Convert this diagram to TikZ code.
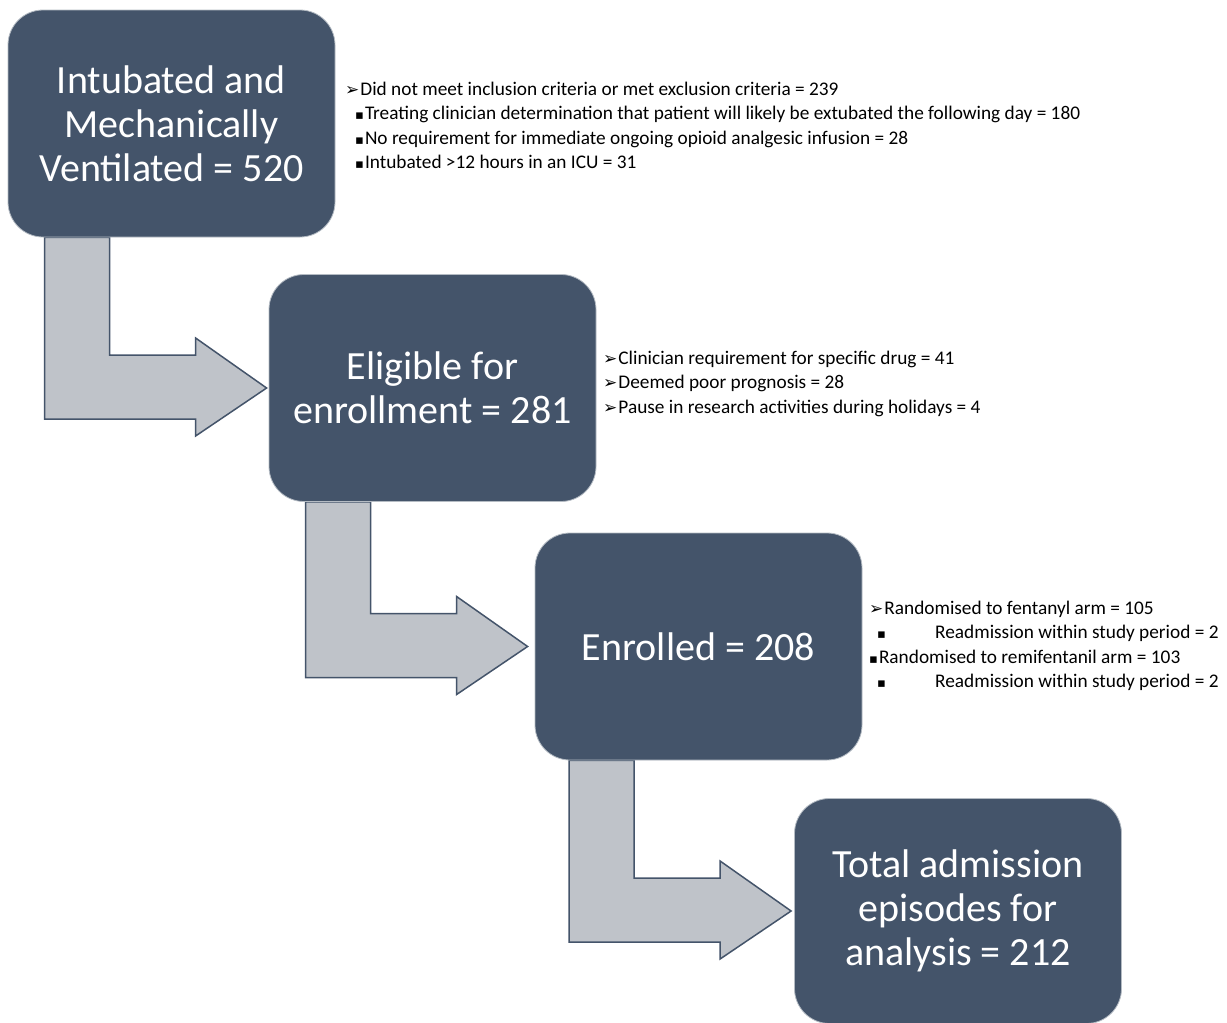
\documentclass[tikz,border=0pt]{standalone}
\usepackage{fontspec}
\setmainfont{Carlito}
\newfontfamily\symfont{DejaVu Sans}
\usetikzlibrary{calc,backgrounds}
\definecolor{boxcol}{HTML}{44546A}
\definecolor{arrcol}{HTML}{BFC3C9}
\newcommand{\arrb}{{\symfont\fontsize{17}{20}\selectfont ➢}}
\newcommand{\sqb}{{\symfont\fontsize{13}{20}\selectfont ▪}}
\begin{document}
\begin{tikzpicture}[x=1pt,y=1pt,
  stagebox/.style={fill=boxcol,draw=boxcol!40,line width=0.8pt,rounded corners=35pt,
    minimum width=327pt,minimum height=227pt,text=white,align=center,
    font=\fontsize{40}{44}\selectfont,inner sep=0pt},
  bentarr/.style={fill=arrcol,draw=boxcol,line width=1.5pt,line join=miter},
  note/.style={anchor=base west,inner sep=0pt,font=\fontsize{19.3}{22}\selectfont}]
\useasboundingbox (0,0) rectangle (1227,-1023);

\node[stagebox] (b1) at (171.5,-123.5) {Intubated and\\Mechanically\\Ventilated = 520};
\node[stagebox] (b2) at (432.5,-388) {Eligible for\\enrollment = 281};
\node[stagebox] (b3) at (698.5,-646.5) {Enrolled = 208};
\node[stagebox,minimum height=225pt] (b4) at (958,-911) {Total admission\\episodes for\\analysis = 212};

\begin{scope}[on background layer]
\fill[white] (0,0) rectangle (1227,-1023);
\foreach \u/\v/\g in {b1/b2/2,b2/b3/7,b3/b4/3}{
  \path[bentarr] let \p1=(\u.south), \p2=($(\v.west)+(-\g,0)$) in
    (\x2-222pt,\y1) -- (\x2-157pt,\y1) -- (\x2-157pt,\y2+33pt) -- (\x2-71pt,\y2+33pt)
    -- (\x2-71pt,\y2+50pt) -- (\x2,\y2) -- (\x2-71pt,\y2-48pt) -- (\x2-71pt,\y2-31pt)
    -- (\x2-222pt,\y2-31pt) -- cycle;
}
\end{scope}

% notes for box 1
\node[note] (n11) at (345,-95) {\arrb\hspace{1pt}Did not meet inclusion criteria or met exclusion criteria = 239};
\node[note] (n12) at (355,-119.5) {\sqb\hspace{1pt}Treating clinician determination that patient will likely be extubated the following day = 180};
\node[note] (n13) at (355,-144) {\sqb\hspace{1pt}No requirement for immediate ongoing opioid analgesic infusion = 28};
\node[note] (n14) at (355,-168.5) {\sqb\hspace{1pt}Intubated >12 hours in an ICU = 31};

% notes for box 2
\node[note] (n21) at (603,-364) {\arrb\hspace{1pt}Clinician requirement for specific drug = 41};
\node[note] (n22) at (603,-388.5) {\arrb\hspace{1pt}Deemed poor prognosis = 28};
\node[note] (n23) at (603,-413) {\arrb\hspace{1pt}Pause in research activities during holidays = 4};

% notes for box 3
\node[note] (n31) at (869,-614) {\arrb\hspace{1pt}Randomised to fentanyl arm = 105};
\node[note] (n32) at (877,-638.5) {\sqb};
\node[note] (n32t) at (935,-638.5) {Readmission within study period = 2};
\node[note] (n33) at (869,-663) {\sqb\hspace{1pt}Randomised to remifentanil arm = 103};
\node[note] (n34) at (877,-687.5) {\sqb};
\node[note] (n34t) at (935,-687.5) {Readmission within study period = 2};
\end{tikzpicture}
\end{document}
